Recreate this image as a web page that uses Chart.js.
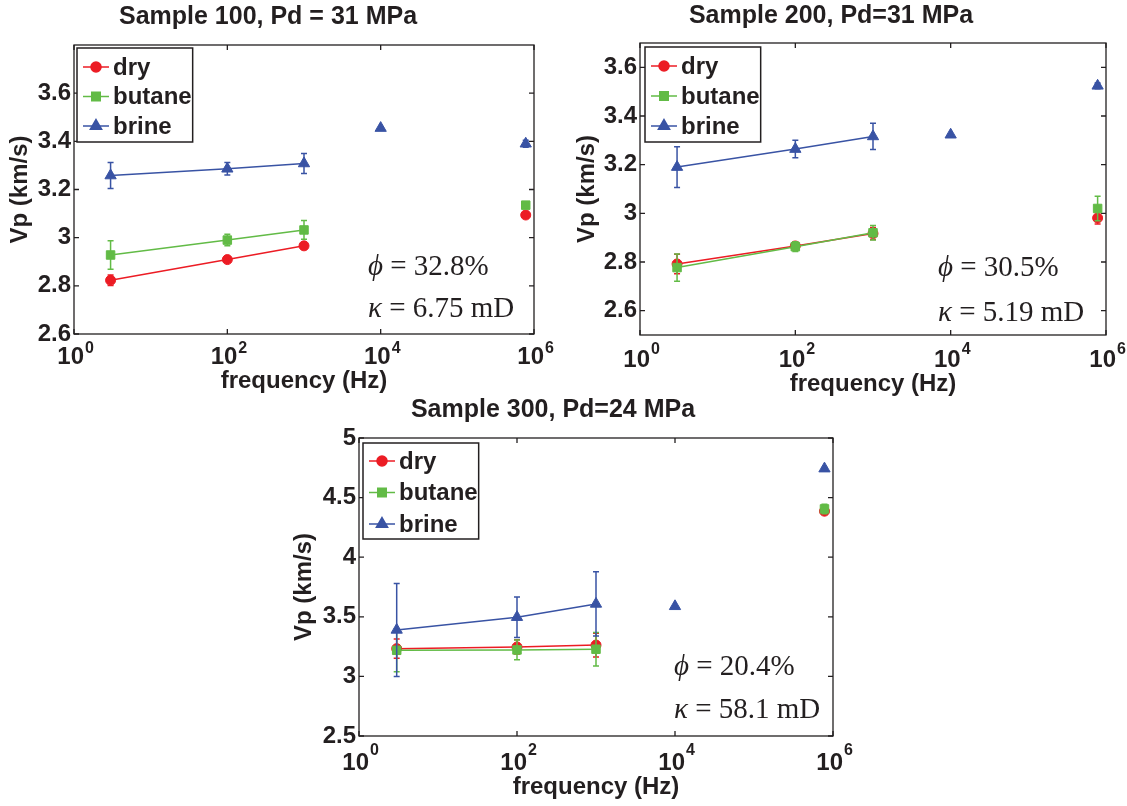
<!DOCTYPE html>
<html>
<head>
<meta charset="utf-8">
<script src="https://cdn.jsdelivr.net/npm/chart.js@4/dist/chart.umd.min.js"></script>
<style>
  body { margin: 0; background: #fff; width: 1127px; height: 806px; position: relative; overflow: hidden; }
  .panel { position: absolute; }
</style>
</head>
<body>
<div class="panel" style="left:0;top:0;width:560px;height:400px"><canvas id="c100"></canvas></div>
<div class="panel" style="left:550px;top:0;width:577px;height:400px"><canvas id="c200"></canvas></div>
<div class="panel" style="left:270px;top:390px;width:595px;height:416px"><canvas id="c300"></canvas></div>
<script>
// frequencies (Hz)
const freqs = [3, 100, 1000, 7.8e5];
const brineFreqs = [3, 100, 1000, 1e4, 7.8e5];
const xTicks = [1, 100, 1e4, 1e6];
const xExponents = ['0', '2', '4', '6'];
const seriesNames = ['dry', 'butane', 'brine'];

// Sample 100, Pd = 31 MPa
const dry100 = [2.823, 2.909, 2.966, 3.094];
const dry100Err = [0.022, 0.008, 0.01, 0.008];
const butane100 = [2.928, 2.990, 3.032, 3.135];
const butane100Err = [0.059, 0.024, 0.039, 0.01];
const brine100 = [3.258, 3.286, 3.308, 3.455, 3.390];
const brine100Err = [0.054, 0.026, 0.042, 0, 0.015];
const yTicks100 = [2.6, 2.8, 3, 3.2, 3.4, 3.6];

// Sample 200, Pd = 31 MPa
const dry200 = [2.792, 2.866, 2.917, 2.981];
const dry200Err = [0.04, 0.015, 0.025, 0.025];
const butane200 = [2.777, 2.863, 2.920, 3.020];
const butane200Err = [0.056, 0.02, 0.03, 0.05];
const brine200 = [3.190, 3.264, 3.316, 3.323, 3.524];
const brine200Err = [0.084, 0.036, 0.054, 0, 0.012];
const yTicks200 = [2.6, 2.8, 3, 3.2, 3.4, 3.6];

// Sample 300, Pd = 24 MPa
const dry300 = [3.233, 3.247, 3.263, 4.386];
const dry300Err = [0.08, 0.06, 0.1, 0.02];
const butane300 = [3.219, 3.222, 3.228, 4.405];
const butane300Err = [0.18, 0.083, 0.14, 0.04];
const brine300 = [3.390, 3.497, 3.608, 3.588, 4.743];
const brine300Err = [0.39, 0.17, 0.27, 0, 0.01];
const yTicks300 = [2.5, 3, 3.5, 4, 4.5, 5];

const ink = '#231f20';
const red = '#ec1c24';
const green = '#62bb46';
const blue = '#3953a4';
const sans = '"Liberation Sans", Arial, sans-serif';
const boldFont = { family: sans, size: 24, weight: 'bold' };
const titleFont = { family: sans, size: 25, weight: 'bold' };

// box around the axes with small inward ticks
const frame = {
  id: 'frame',
  beforeDatasetsDraw(chart) {
    const { ctx, chartArea: a, scales: { x, y } } = chart;
    ctx.save();
    ctx.strokeStyle = ink;
    ctx.lineWidth = 1.3;
    ctx.strokeRect(a.left, a.top, a.right - a.left, a.bottom - a.top);
    ctx.beginPath();
    y.ticks.forEach(t => {
      const py = y.getPixelForValue(t.value);
      ctx.moveTo(a.left, py); ctx.lineTo(a.left + 5, py);
      ctx.moveTo(a.right, py); ctx.lineTo(a.right - 5, py);
    });
    x.ticks.forEach(t => {
      const px = x.getPixelForValue(t.value);
      ctx.moveTo(px, a.bottom); ctx.lineTo(px, a.bottom - 5);
      ctx.moveTo(px, a.top); ctx.lineTo(px, a.top + 5);
    });
    ctx.stroke();
    ctx.restore();
  }
};

const errorBars = {
  id: 'errorBars',
  afterDatasetDraw(chart, args) {
    const ds = chart.data.datasets[args.index];
    if (!ds.errors) return;
    const { ctx, scales: { x, y } } = chart;
    ctx.save();
    ctx.strokeStyle = ds.borderColor;
    ctx.lineWidth = 1.5;
    ds.data.forEach((p, i) => {
      const e = ds.errors[i];
      if (!e) return;
      const px = x.getPixelForValue(p.x);
      const top = y.getPixelForValue(p.y + e);
      const bot = y.getPixelForValue(p.y - e);
      ctx.beginPath();
      ctx.moveTo(px, top); ctx.lineTo(px, bot);
      ctx.moveTo(px - 3, top); ctx.lineTo(px + 3, top);
      ctx.moveTo(px - 3, bot); ctx.lineTo(px + 3, bot);
      ctx.stroke();
    });
    ctx.restore();
  }
};

// legend drawn inside the axes, top-left
const insetLegend = {
  id: 'insetLegend',
  afterDatasetsDraw(chart, args, opts) {
    const { ctx, chartArea } = chart;
    const x0 = chartArea.left + opts.dx, y0 = chartArea.top + opts.dy;
    const items = chart.data.datasets;
    ctx.save();
    ctx.font = 'bold 24px ' + sans;
    const tw = Math.max(...items.map(d => ctx.measureText(d.label).width));
    const w = 36 + tw + 1, h = 2 * opts.first + 2 * opts.gap - 3;
    ctx.fillStyle = '#fff';
    ctx.fillRect(x0, y0, w, h);
    ctx.strokeStyle = ink;
    ctx.lineWidth = 1.5;
    ctx.strokeRect(x0, y0, w, h);
    items.forEach((d, i) => {
      const yy = y0 + opts.first + i * opts.gap;
      ctx.strokeStyle = d.borderColor;
      ctx.lineWidth = d.borderWidth;
      ctx.beginPath();
      ctx.moveTo(x0 + 6, yy); ctx.lineTo(x0 + 32, yy);
      ctx.stroke();
      ctx.fillStyle = d.pointBackgroundColor;
      Chart.helpers.drawPoint(ctx, { pointStyle: d.pointStyle, radius: d.pointRadius, borderWidth: 1, rotation: 0 }, x0 + 19, yy);
      ctx.fillStyle = ink;
      ctx.textBaseline = 'middle';
      ctx.fillText(d.label, x0 + 36, yy + 1);
    });
    ctx.restore();
  }
};

// superscript exponents after the "10" tick labels, plus porosity/permeability notes
const extras = {
  id: 'extras',
  afterDraw(chart, args, opts) {
    const { ctx, chartArea: a, scales: { x } } = chart;
    ctx.save();
    ctx.font = 'bold 24px ' + sans;
    const w10 = ctx.measureText('10').width;
    const wAll = ctx.measureText('10 ').width;
    ctx.font = 'bold 16px ' + sans;
    ctx.fillStyle = ink;
    ctx.textBaseline = 'alphabetic';
    x.ticks.forEach((t, i) => {
      const px = x.getPixelForValue(t.value);
      ctx.fillText(xExponents[i], px - wAll / 2 + w10 + 1, a.bottom + 19);
    });
    ctx.textBaseline = 'middle';
    opts.notes.forEach(n => {
      ctx.font = 'italic 29px "Liberation Serif", "Times New Roman", serif';
      ctx.fillText(n.sym, n.x, n.y);
      const ws = ctx.measureText(n.sym).width;
      ctx.font = '29px "Liberation Serif", "Times New Roman", serif';
      ctx.fillText(n.text, n.x + ws, n.y);
    });
    ctx.restore();
  }
};

function series(label, xs, ys, errs, color, style, radius, order) {
  return {
    label: label,
    data: xs.map((f, i) => ({ x: f, y: ys[i] })),
    errors: errs,
    borderColor: color,
    backgroundColor: color,
    pointBackgroundColor: color,
    pointBorderColor: color,
    pointStyle: style,
    pointRadius: radius,
    pointBorderWidth: 1,
    borderWidth: 1.5,
    order: order,
    segment: { borderColor: c => c.p0DataIndex >= 2 ? 'rgba(0,0,0,0)' : undefined }
  };
}

function makeChart(id, o) {
  return new Chart(document.getElementById(id), {
    type: 'line',
    data: {
      datasets: [
        series(seriesNames[0], freqs, o.dry, o.dryErr, red, 'circle', 5, 3),
        series(seriesNames[1], freqs, o.butane, o.butaneErr, green, 'rect', 6, 2),
        series(seriesNames[2], brineFreqs, o.brine, o.brineErr, blue, 'triangle', 6.5, 1)
      ]
    },
    plugins: [frame, errorBars, insetLegend, extras],
    options: {
      responsive: true,
      maintainAspectRatio: false,
      animation: false,
      layout: { padding: o.pad },
      plugins: {
        legend: { display: false },
        tooltip: { enabled: false },
        title: { display: true, text: o.title, color: ink, font: titleFont, padding: o.titlePad },
        insetLegend: o.legend,
        extras: { notes: o.notes }
      },
      scales: {
        x: {
          type: 'logarithmic',
          min: 1,
          max: 1e6,
          afterBuildTicks: s => { s.ticks = xTicks.map(v => ({ value: v })); },
          afterFit: s => { s.height = o.xHeight; s.paddingLeft = 0; s.paddingRight = 0; },
          grid: { display: false, drawTicks: false },
          border: { display: false },
          ticks: { callback: () => '10 ', autoSkip: false, maxRotation: 0, padding: o.xTickPad, color: ink, font: boldFont },
          title: { display: true, text: 'frequency (Hz)', color: ink, font: boldFont, padding: { top: 0, bottom: o.xTitlePad } }
        },
        y: {
          min: o.yMin,
          max: o.yMax,
          afterBuildTicks: s => { s.ticks = o.yTicks.map(v => ({ value: v })); },
          afterFit: s => { s.width = o.yWidth; s.paddingTop = 0; s.paddingBottom = 0; },
          grid: { display: false, drawTicks: false },
          border: { display: false },
          ticks: { callback: v => String(v), padding: 3, color: ink, font: boldFont },
          title: { display: true, text: 'Vp (km/s)', color: ink, font: boldFont, padding: { top: o.yTitlePad, bottom: 0 } }
        }
      }
    }
  });
}

makeChart('c100', {
  title: 'Sample 100, Pd = 31 MPa',
  dry: dry100, dryErr: dry100Err, butane: butane100, butaneErr: butane100Err, brine: brine100, brineErr: brine100Err,
  yMin: 2.6, yMax: 3.8, yTicks: yTicks100,
  pad: { left: 2, right: 26, top: 0, bottom: 0 },
  titlePad: { top: 2, bottom: 13 },
  yWidth: 72, yTitlePad: 4,
  xHeight: 66, xTickPad: 9, xTitlePad: 4,
  legend: { dx: 3, dy: 3, first: 19, gap: 29.5 },
  notes: [{ sym: 'ϕ', text: ' = 32.8%', x: 368, y: 267 }, { sym: 'κ', text: ' = 6.75 mD', x: 368, y: 309 }]
});

makeChart('c200', {
  title: 'Sample 200, Pd=31 MPa',
  dry: dry200, dryErr: dry200Err, butane: butane200, butaneErr: butane200Err, brine: brine200, brineErr: brine200Err,
  yMin: 2.5, yMax: 3.7, yTicks: yTicks200,
  pad: { left: 6, right: 21, top: 0, bottom: 0 },
  titlePad: { top: 1, bottom: 12 },
  yWidth: 84, yTitlePad: 17,
  xHeight: 65, xTickPad: 11, xTitlePad: 1,
  legend: { dx: 5, dy: 4, first: 19, gap: 30 },
  notes: [{ sym: 'ϕ', text: ' = 30.5%', x: 388, y: 268 }, { sym: 'κ', text: ' = 5.19 mD', x: 388, y: 313 }]
});

makeChart('c300', {
  title: 'Sample 300, Pd=24 MPa',
  dry: dry300, dryErr: dry300Err, butane: butane300, butaneErr: butane300Err, brine: brine300, brineErr: brine300Err,
  yMin: 2.5, yMax: 5, yTicks: yTicks300,
  pad: { left: 3, right: 32, top: 0, bottom: 0 },
  titlePad: { top: 5, bottom: 13 },
  yWidth: 86, yTitlePad: 17,
  xHeight: 70, xTickPad: 13, xTitlePad: 4,
  legend: { dx: 4, dy: 5, first: 18, gap: 31.5 },
  notes: [{ sym: 'ϕ', text: ' = 20.4%', x: 404, y: 277 }, { sym: 'κ', text: ' = 58.1 mD', x: 404, y: 320 }]
});
</script>
</body>
</html>
